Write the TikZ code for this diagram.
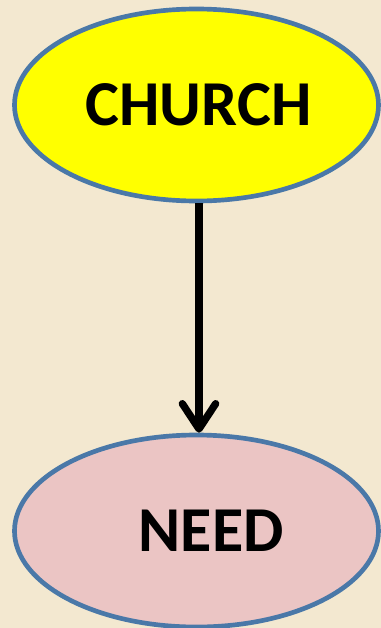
\documentclass[tikz,border=0pt]{standalone}
\usepackage{fontspec}
\setmainfont{Carlito}
\usepackage{tikz}
\usetikzlibrary{shapes.geometric, arrows.meta, positioning}
\definecolor{Parchment}{HTML}{F3E8D0}
\definecolor{RimBlue}{HTML}{4A78A8}
\definecolor{BoxYellow}{HTML}{FFFF00}
\definecolor{BoxPink}{HTML}{EBC5C4}
\tikzset{
  bubble/.style={ellipse, draw=RimBlue, line width=3.5pt,
                 minimum width=273pt, minimum height=144pt,
                 inner sep=0pt, font=\fontsize{48}{52}\selectfont\bfseries},
  yellowB/.style={bubble, fill=BoxYellow},
  pinkB/.style={bubble, fill=BoxPink},
  link/.style={line width=5.5pt, draw=black,
               -{Straight Barb[length=19pt, width=25pt, line width=5.5pt, round]}},
}
\begin{document}
\begin{tikzpicture}[x=0.75pt, y=-0.75pt]
    %% page and background
    \fill[Parchment] (0,0) rectangle (381,628);
    \useasboundingbox (0,0) rectangle (381,628);
    %% the two ellipses
    \node[yellowB] (church) at (196.5,105) {\hspace{3pt}\raisebox{-3pt}{CHURCH}};
    \node[pinkB] (need) at (196.5,531) {\hspace{22pt}\raisebox{-1pt}{NEED}};
    %% arrow between them
    \draw[link] (church.south) ++(2.5,0) coordinate (top)
          (top) -- (top |- need.north);
\end{tikzpicture}
\end{document}
